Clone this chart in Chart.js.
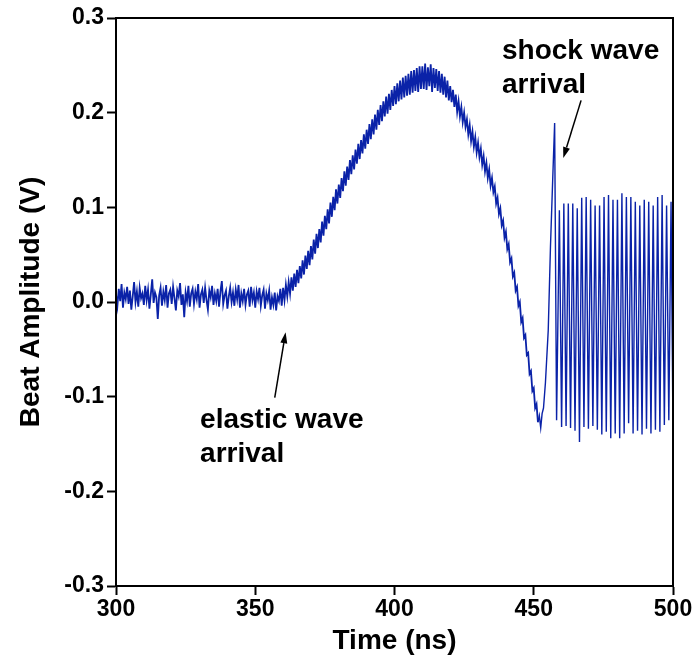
<!DOCTYPE html>
<html>
<head>
<meta charset="utf-8">
<title>Beat amplitude</title>
<script src="https://cdn.jsdelivr.net/npm/chart.js@4.4.1/dist/chart.umd.min.js"></script>
<style>
  html, body { margin: 0; padding: 0; background: #fff; }
</style>
</head>
<body>
<canvas id="beatChart" width="698" height="665"></canvas>
<script>
// noisy part of the trace, sampled every 0.5 ns from 300 ns
const noisyStart = 300;
const noisyStep = 0.5;
const noisyVolts = [
  0.008, -0.004, 0.014, 0.001, 0.019, -0.006, 0.010, 0.003, 0.016, -0.002,
  0.012, -0.008, 0.006, 0.021, 0.000, 0.011, -0.005, 0.015, 0.004, 0.009,
  -0.003, 0.017, 0.002, 0.013, -0.007, 0.008, 0.024, -0.001, 0.010, 0.005,
  -0.018, 0.007, 0.015, -0.004, 0.011, 0.002, 0.018, -0.006, 0.009, 0.013,
  -0.002, 0.016, 0.004, -0.009, 0.012, 0.006, 0.020, -0.003, 0.008, -0.016,
  0.010, 0.001, 0.017, -0.005, 0.009, 0.014, -0.002, 0.011, 0.003, 0.019,
  -0.006, 0.008, 0.013, -0.001, 0.015, 0.002, -0.008, 0.012, 0.005, 0.017,
  -0.003, 0.009, 0.001, 0.014, -0.005, 0.011, 0.022, -0.002, 0.007, 0.012,
  -0.007, 0.006, 0.015, 0.000, 0.010, -0.004, 0.013, 0.003, 0.018, -0.006,
  0.009, 0.001, 0.014, -0.003, 0.008, 0.012, -0.005, 0.016, 0.002, 0.010,
  -0.006, 0.011, 0.003, 0.015, -0.004, 0.007, 0.013, -0.007, 0.009, 0.002,
  0.012, -0.008, 0.005, -0.003, 0.010, -0.009, 0.006, 0.001, 0.014, -0.004,
  0.015, 0.002, 0.018, 0.006, 0.021, 0.009, 0.026, 0.012, 0.030, 0.016,
  0.034, 0.020, 0.038, 0.025, 0.044, 0.029, 0.049, 0.035, 0.054, 0.039,
  0.059, 0.045, 0.066, 0.051, 0.072, 0.057, 0.077, 0.063, 0.085, 0.070,
  0.091, 0.077, 0.098, 0.083, 0.105, 0.090, 0.111, 0.097, 0.119, 0.104,
  0.124, 0.110, 0.131, 0.117, 0.138, 0.123, 0.143, 0.129, 0.150, 0.135,
  0.155, 0.140, 0.161, 0.146, 0.167, 0.151, 0.171, 0.157, 0.177, 0.162,
  0.182, 0.167, 0.188, 0.172, 0.193, 0.177, 0.198, 0.182, 0.203, 0.187,
  0.208, 0.191, 0.212, 0.196, 0.217, 0.199, 0.220, 0.203, 0.224, 0.207,
  0.228, 0.209, 0.231, 0.212, 0.234, 0.214, 0.237, 0.216, 0.239, 0.218,
  0.241, 0.219, 0.244, 0.221, 0.245, 0.223, 0.247, 0.222, 0.249, 0.225,
  0.249, 0.225, 0.252, 0.224, 0.248, 0.228, 0.251, 0.222, 0.247, 0.226,
  0.246, 0.223, 0.244, 0.221, 0.241, 0.219, 0.238, 0.216, 0.234, 0.213,
  0.228, 0.211, 0.224, 0.206, 0.219, 0.201, 0.212, 0.196, 0.206, 0.190,
  0.200, 0.185, 0.193, 0.177, 0.187, 0.170, 0.180, 0.164, 0.174, 0.158,
  0.168, 0.153, 0.162, 0.145, 0.154, 0.138, 0.147, 0.131, 0.140, 0.123,
  0.131, 0.116, 0.122, 0.104, 0.110, 0.093, 0.099, 0.081, 0.086, 0.068,
  0.074, 0.056, 0.061, 0.042, 0.046, 0.027, 0.031, 0.012, 0.016, -0.004,
  0.000, -0.021, -0.017, -0.038, -0.035, -0.056, -0.054, -0.076, -0.073, -0.094,
  -0.091, -0.112, -0.108, -0.127
];

// minimum and the shock spike
const spikeTimes = [452.0, 452.5, 453.0, 453.5, 454.2, 455.2, 456.0, 456.8, 457.5, 458.2];
const spikeVolts = [-0.120, -0.133, -0.118, -0.112, -0.085, -0.030, 0.058, 0.129, 0.189, -0.125];

// beat oscillation after the shock: one peak and one trough per period
const oscStart = 459.2;
const oscPeriod = 1.604;
const oscPeaks = [
  0.097, 0.104, 0.104, 0.104, 0.099, 0.110, 0.111, 0.108, 0.102, 0.102,
  0.111, 0.113, 0.108, 0.108, 0.115, 0.111, 0.111, 0.106, 0.102, 0.108,
  0.106, 0.102, 0.111, 0.113, 0.102, 0.106
];
const oscTroughs = [
  -0.132, -0.131, -0.133, -0.136, -0.148, -0.132, -0.134, -0.131, -0.135, -0.140,
  -0.137, -0.144, -0.139, -0.144, -0.139, -0.128, -0.139, -0.136, -0.140, -0.134,
  -0.139, -0.135, -0.137, -0.130, -0.125, -0.137
];

const xTicks = [300, 350, 400, 450, 500];
const yTicks = [-0.3, -0.2, -0.1, 0.0, 0.1, 0.2, 0.3];

// text notes with arrows, in data units
const notes = [
  { lines: ['elastic wave', 'arrival'], textAt: [330.2, -0.133], from: [357.0, -0.101], to: [360.9, -0.032] },
  { lines: ['shock wave', 'arrival'], textAt: [438.6, 0.257], from: [467.0, 0.213], to: [460.6, 0.152] }
];

const FONT = '"Liberation Sans", Arial, Helvetica, sans-serif';
const traceColor = '#0a22a8';

const noisyPoints = noisyVolts.map((v, i) => ({ x: noisyStart + i * noisyStep, y: v }));
const shockPoints = [noisyPoints[noisyPoints.length - 1]];
spikeTimes.forEach((t, i) => shockPoints.push({ x: t, y: spikeVolts[i] }));
oscPeaks.forEach((p, i) => {
  shockPoints.push({ x: oscStart + i * oscPeriod, y: p });
  shockPoints.push({ x: Math.min(500, oscStart + oscPeriod / 2 + i * oscPeriod), y: oscTroughs[i] });
});

const frameAndNotes = {
  id: 'frameAndNotes',
  afterDatasetsDraw(chart) {
    const { ctx, chartArea: a, scales: { x, y } } = chart;
    ctx.save();
    ctx.strokeStyle = '#000';
    ctx.lineWidth = 2;
    ctx.strokeRect(a.left, a.top, a.right - a.left, a.bottom - a.top);

    ctx.fillStyle = '#000';
    ctx.font = 'bold 28px ' + FONT;
    ctx.textAlign = 'left';
    ctx.textBaseline = 'alphabetic';
    notes.forEach(n => {
      const tx = x.getPixelForValue(n.textAt[0]);
      const ty = y.getPixelForValue(n.textAt[1]);
      n.lines.forEach((line, i) => ctx.fillText(line, tx, ty + i * 34));

      const x0 = x.getPixelForValue(n.from[0]), y0 = y.getPixelForValue(n.from[1]);
      const x1 = x.getPixelForValue(n.to[0]), y1 = y.getPixelForValue(n.to[1]);
      const ang = Math.atan2(y1 - y0, x1 - x0);
      const head = 11, half = 3.5;
      ctx.lineWidth = 1.5;
      ctx.beginPath();
      ctx.moveTo(x0, y0);
      ctx.lineTo(x1 - head * Math.cos(ang), y1 - head * Math.sin(ang));
      ctx.stroke();
      ctx.beginPath();
      ctx.moveTo(x1, y1);
      ctx.lineTo(x1 - head * Math.cos(ang) + half * Math.sin(ang), y1 - head * Math.sin(ang) - half * Math.cos(ang));
      ctx.lineTo(x1 - head * Math.cos(ang) - half * Math.sin(ang), y1 - head * Math.sin(ang) + half * Math.cos(ang));
      ctx.closePath();
      ctx.fill();
    });
    ctx.restore();
  }
};

const tickFont = { family: FONT, size: 23, weight: 'bold' };
const titleFont = { family: FONT, size: 28, weight: 'bold' };

new Chart(document.getElementById('beatChart'), {
  type: 'line',
  data: {
    datasets: [{
      data: noisyPoints,
      borderColor: traceColor,
      borderWidth: 1.8,
      pointRadius: 0,
      tension: 0,
      fill: false
    }, {
      data: shockPoints,
      borderColor: traceColor,
      borderWidth: 1.4,
      pointRadius: 0,
      tension: 0,
      fill: false
    }]
  },
  options: {
    responsive: false,
    animation: false,
    layout: { padding: { top: 18, right: 25, bottom: 0, left: 0 } },
    plugins: { legend: { display: false }, tooltip: { enabled: false } },
    scales: {
      x: {
        type: 'linear',
        min: 300,
        max: 500,
        afterBuildTicks: s => { s.ticks = xTicks.map(v => ({ value: v })); },
        afterFit: s => { s.height = 79; },
        grid: { drawOnChartArea: false, drawTicks: true, tickLength: 9, tickWidth: 2, tickColor: '#000' },
        border: { display: true, color: '#000', width: 2 },
        ticks: { color: '#000', font: tickFont, padding: 1, maxRotation: 0 },
        title: { display: true, text: 'Time (ns)', color: '#000', font: titleFont, padding: { top: 0, bottom: 7 } }
      },
      y: {
        type: 'linear',
        min: -0.3,
        max: 0.3,
        afterBuildTicks: s => { s.ticks = yTicks.map(v => ({ value: v })); },
        afterFit: s => { s.width = 116; },
        grid: { drawOnChartArea: false, drawTicks: true, tickLength: 9, tickWidth: 2, tickColor: '#000' },
        border: { display: true, color: '#000', width: 2 },
        ticks: { color: '#000', font: tickFont, padding: 3, callback: v => v.toFixed(1) },
        title: { display: true, text: 'Beat Amplitude (V)', color: '#000', font: titleFont, padding: { top: 14, bottom: 0 } }
      }
    }
  },
  plugins: [frameAndNotes]
});
</script>
</body>
</html>
